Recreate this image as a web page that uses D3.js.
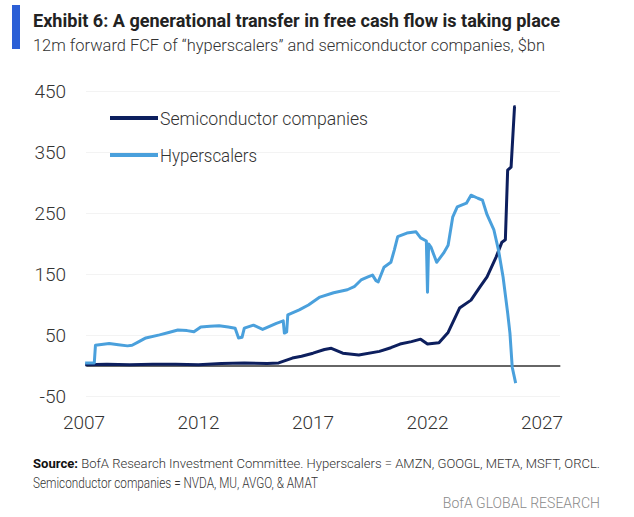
<!DOCTYPE html>
<html>
<head>
<meta charset="utf-8">
<script src="https://cdn.jsdelivr.net/npm/d3@7"></script>
<style>
  body { margin: 0; background: #fff; }
  text { font-family: Roboto, "Noto Sans", sans-serif; }
</style>
</head>
<body>
<svg id="chart" width="634" height="517"></svg>
<script>
// decimal years + $bn
const hyperDates = [2007.05, 2007.45, 2007.5, 2008.1, 2008.5, 2008.9, 2009.1, 2009.4, 2009.7, 2010.3, 2010.7, 2011.1, 2011.5, 2011.8,
  2012.1, 2012.5, 2012.9, 2013.3, 2013.6, 2013.75, 2013.9, 2014.0, 2014.4, 2014.8, 2015.1, 2015.4, 2015.7, 2015.75, 2015.85, 2015.9,
  2016.4, 2016.8, 2017.3, 2017.9, 2018.5, 2018.8, 2019.1, 2019.4, 2019.6, 2019.75, 2019.85, 2020.1, 2020.4, 2020.55, 2020.7,
  2021.1, 2021.5, 2021.7, 2021.95, 2022.0, 2022.05, 2022.15, 2022.4, 2022.7, 2022.9, 2023.1, 2023.3, 2023.7, 2023.9,
  2024.2, 2024.4, 2024.6, 2024.9, 2025.1, 2025.3, 2025.5, 2025.6, 2025.7, 2025.85];
const hyperValues = [5, 5, 34, 37, 35, 33, 34, 40, 46, 51, 55, 59, 58, 56,
  64, 65, 66, 64, 62, 46, 47, 62, 67, 60, 65, 70, 74, 54, 56, 84,
  92, 100, 113, 120, 125, 130, 141, 146, 149, 140, 138, 162, 170, 190, 212,
  218, 220, 210, 205, 121, 200, 195, 170, 185, 198, 244, 261, 267, 280,
  275, 272, 248, 223, 190, 146, 87, 54, -2, -28];

const semiDates = [2007.05, 2008, 2009, 2010, 2011, 2012, 2013, 2014, 2015, 2015.5, 2016.1, 2016.5, 2017.0, 2017.5, 2017.8,
  2018.3, 2019.0, 2019.9, 2020.4, 2020.8, 2021.3, 2021.7, 2022.0, 2022.5, 2022.9, 2023.4, 2023.9, 2024.3, 2024.6,
  2025.0, 2025.25, 2025.4, 2025.5, 2025.65, 2025.8, 2025.85];
const semiValues = [2, 3, 2, 3, 3, 2, 4, 5, 4, 5, 13, 16, 21, 27, 29,
  21, 18, 24, 30, 36, 40, 44, 36, 38, 55, 95, 108, 130, 146,
  179, 203, 207, 321, 326, 425, 425];

const yTicks = [450, 350, 250, 150, 50, -50];
const xTicks = [2007, 2012, 2017, 2022, 2027];

const legendNames = ["Semiconductor companies", "Hyperscalers"];
const seriesColors = ["#0d1f5e", "#4aa0dc"];

const svg = d3.select("#chart");

const x = d3.scaleLinear().domain([2007, 2027]).range([84, 542]);
const y = d3.scaleLinear().domain([-50, 450]).range([396.5, 91.5]);

// header
svg.append("rect").attr("x", 12).attr("y", 5).attr("width", 8).attr("height", 44).attr("fill", "#2b5fd6");
svg.append("text").attr("x", 33).attr("y", 27)
  .attr("font-size", 19).attr("font-weight", 700).attr("fill", "#222")
  .attr("textLength", 527).attr("lengthAdjust", "spacingAndGlyphs")
  .text("Exhibit 6: A generational transfer in free cash flow is taking place");
svg.append("text").attr("x", 33).attr("y", 51)
  .attr("font-size", 17).attr("font-weight", 300).attr("fill", "#333")
  .attr("textLength", 512).attr("lengthAdjust", "spacingAndGlyphs")
  .text("12m forward FCF of \u201chyperscalers\u201d and semiconductor companies, $bn");

// faint gridlines
svg.append("g").selectAll("line").data(yTicks).join("line")
  .attr("x1", 86).attr("x2", 560)
  .attr("y1", d => y(d)).attr("y2", d => y(d))
  .attr("stroke", "#f3f3f3").attr("stroke-width", 1);

// y labels
svg.append("g").selectAll("text").data(yTicks).join("text")
  .attr("x", 66).attr("y", d => y(d)).attr("dy", "0.35em")
  .attr("text-anchor", "end").attr("font-size", 19).attr("font-weight", 300).attr("fill", "#333")
  .text(d => d);

// x labels
svg.append("g").selectAll("text").data(xTicks).join("text")
  .attr("x", d => x(d)).attr("y", 429)
  .attr("text-anchor", "middle").attr("font-size", 19).attr("font-weight", 300).attr("fill", "#333")
  .text(d => d);

// zero line
svg.append("line")
  .attr("x1", x(2007.1)).attr("x2", x(2027.8))
  .attr("y1", y(0)).attr("y2", y(0))
  .attr("stroke", "#333").attr("stroke-width", 1.5);

const line = d3.line().x(d => x(d[0])).y(d => y(d[1]));

svg.append("path")
  .datum(d3.zip(semiDates, semiValues))
  .attr("d", line).attr("fill", "none")
  .attr("stroke", seriesColors[0]).attr("stroke-width", 3).attr("stroke-linejoin", "round");

svg.append("path")
  .datum(d3.zip(hyperDates, hyperValues))
  .attr("d", line).attr("fill", "none")
  .attr("stroke", seriesColors[1]).attr("stroke-width", 3).attr("stroke-linejoin", "round");

// legend
const legend = svg.append("g").selectAll("g").data(legendNames).join("g")
  .attr("transform", (d, i) => `translate(110, ${118 + i * 37})`);
legend.append("line").attr("x1", 0).attr("x2", 48)
  .attr("stroke", (d, i) => seriesColors[i]).attr("stroke-width", 4);
legend.append("text").attr("x", 50).attr("dy", "0.35em")
  .attr("font-size", 19).attr("font-weight", 300).attr("fill", "#333")
  .attr("textLength", (d, i) => i === 0 ? 208 : 97).attr("lengthAdjust", "spacingAndGlyphs")
  .text(d => d);

// footer
const src = svg.append("text").attr("x", 33).attr("y", 468)
  .attr("font-size", 12.5).attr("fill", "#333")
  .attr("textLength", 567).attr("lengthAdjust", "spacingAndGlyphs");
src.append("tspan").attr("font-weight", 700).attr("fill", "#111").text("Source:");
src.append("tspan").attr("font-weight", 300)
  .text(" BofA Research Investment Committee. Hyperscalers = AMZN, GOOGL, META, MSFT, ORCL.");
svg.append("text").attr("x", 33).attr("y", 488)
  .attr("font-size", 14).attr("font-weight", 300).attr("fill", "#333")
  .attr("textLength", 285).attr("lengthAdjust", "spacingAndGlyphs")
  .text("Semiconductor companies = NVDA, MU, AVGO, & AMAT");
svg.append("text").attr("x", 600).attr("y", 508)
  .attr("text-anchor", "end")
  .attr("font-size", 14).attr("font-weight", 300).attr("fill", "#8a8a8a")
  .text("BofA GLOBAL RESEARCH");
</script>
</body>
</html>
